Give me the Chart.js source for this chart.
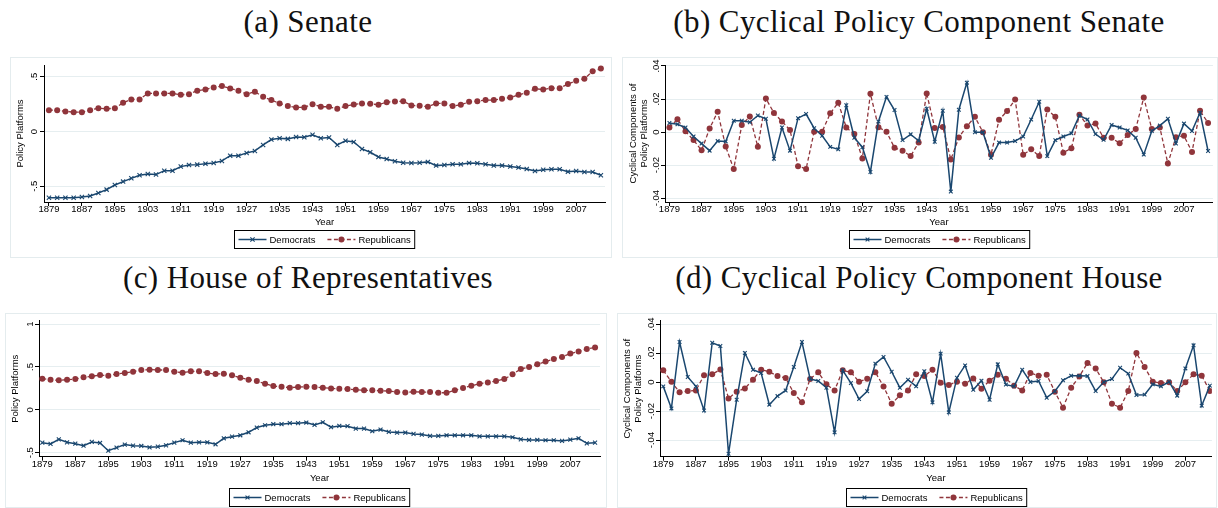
<!DOCTYPE html>
<html>
<head>
<meta charset="utf-8">
<script src="https://cdn.jsdelivr.net/npm/chart.js@4.4.1/dist/chart.umd.min.js"></script>
<style>
  body { margin: 0; background: #fff; }
  #page { position: relative; width: 1218px; height: 508px; overflow: hidden; }
  .ttl { position: absolute; font-family: "Liberation Serif", "Times New Roman", serif; font-size: 31px;
         line-height: 31px; color: #111; white-space: nowrap; transform: translateX(-50%); letter-spacing: 0.4px; }
  canvas { position: absolute; }
  .frame { position: absolute; border: 1px solid #e4ecee; box-sizing: border-box; pointer-events: none; }
</style>
</head>
<body>
<div id="page">
  <div class="ttl" style="left:308px; top:6px">(a) Senate</div>
  <div class="ttl" style="left:919px; top:6px">(b) Cyclical Policy Component Senate</div>
  <div class="ttl" style="left:308px; top:262px">(c) House of Representatives</div>
  <div class="ttl" style="left:919px; top:262px">(d) Cyclical Policy Component House</div>

  <canvas id="chartA" width="602" height="201" style="left:10px; top:57px"></canvas>
  <canvas id="chartB" width="596" height="201" style="left:622px; top:57px"></canvas>
  <canvas id="chartC" width="602" height="195" style="left:5px; top:313px"></canvas>
  <canvas id="chartD" width="600" height="195" style="left:617px; top:313px"></canvas>
  <div class="frame" style="left:10px; top:57px; width:602px; height:201px"></div>
  <div class="frame" style="left:622px; top:57px; width:596px; height:201px"></div>
  <div class="frame" style="left:5px; top:313px; width:602px; height:195px"></div>
  <div class="frame" style="left:617px; top:313px; width:600px; height:195px"></div>
</div>

<script>
// Congress start years, every two years
const years = [1879, 1881, 1883, 1885, 1887, 1889, 1891, 1893, 1895, 1897, 1899, 1901, 1903, 1905, 1907, 1909,
  1911, 1913, 1915, 1917, 1919, 1921, 1923, 1925, 1927, 1929, 1931, 1933, 1935, 1937, 1939, 1941,
  1943, 1945, 1947, 1949, 1951, 1953, 1955, 1957, 1959, 1961, 1963, 1965, 1967, 1969, 1971, 1973,
  1975, 1977, 1979, 1981, 1983, 1985, 1987, 1989, 1991, 1993, 1995, 1997, 1999, 2001, 2003, 2005,
  2007, 2009, 2011, 2013];

const tickYears = [1879, 1887, 1895, 1903, 1911, 1919, 1927, 1935, 1943, 1951, 1959, 1967, 1975, 1983, 1991, 1999, 2007];

// (a) Senate
const senateDem = [-0.604, -0.604, -0.604, -0.604, -0.598, -0.588, -0.561, -0.530, -0.488, -0.457, -0.427, -0.399,
  -0.387, -0.393, -0.357, -0.357, -0.320, -0.305, -0.302, -0.293, -0.287, -0.268, -0.220, -0.220, -0.195, -0.177,
  -0.122, -0.073, -0.061, -0.067, -0.049, -0.052,
  -0.030, -0.061, -0.055, -0.122, -0.085, -0.095, -0.159, -0.189, -0.232, -0.250, -0.271, -0.284, -0.287, -0.284,
  -0.277, -0.311, -0.305, -0.299, -0.299, -0.287, -0.290, -0.299, -0.311, -0.311, -0.320, -0.329, -0.341, -0.360,
  -0.348, -0.345, -0.345, -0.366, -0.360, -0.369, -0.369, -0.399];
const senateRep = [0.195, 0.195, 0.183, 0.177, 0.177, 0.195, 0.213, 0.207, 0.213, 0.262, 0.293, 0.293, 0.348, 0.348,
  0.348, 0.348, 0.335, 0.341, 0.372, 0.384, 0.402, 0.415, 0.393, 0.372, 0.341, 0.363, 0.317, 0.287, 0.256, 0.232,
  0.220, 0.220,
  0.250, 0.226, 0.226, 0.207, 0.232, 0.247, 0.256, 0.253, 0.244, 0.268, 0.274, 0.277, 0.238, 0.235, 0.226, 0.256,
  0.256, 0.232, 0.244, 0.271, 0.277, 0.287, 0.287, 0.299, 0.311, 0.335, 0.354, 0.390, 0.384, 0.396, 0.396, 0.433,
  0.463, 0.482, 0.549, 0.576];

// (b) cyclical component, Senate
const cycSenateDem = [0.0055, 0.0047, 0.0027, -0.0027, -0.0070, -0.0113, -0.0055, -0.0057, 0.0068, 0.0068, 0.0059,
  0.0100, 0.0080, -0.0162, 0.0027, -0.0113, 0.0084, 0.0109, 0.0023, -0.0023, -0.0090, -0.0105, 0.0162, -0.0035,
  -0.0092, -0.0242, 0.0064, 0.0213, 0.0133, -0.0049, -0.0014, -0.0053,
  0.0141, -0.0059, 0.0129, -0.0361, 0.0135, 0.0299, -0.0002, -0.0002, -0.0156, -0.0064, -0.0064, -0.0055, -0.0027,
  0.0076, 0.0183, -0.0146, -0.0049, -0.0027, -0.0008, 0.0100, 0.0076, -0.0012, -0.0047, 0.0043, 0.0027, 0.0010,
  -0.0035, -0.0137, 0.0006, 0.0039, 0.0080, -0.0070, 0.0051, 0.0006, 0.0117, -0.0115];
const cycSenateRep = [0.0027, 0.0078, 0.0004, -0.0049, -0.0111, 0.0021, 0.0123, -0.0088, -0.0224, 0.0043, 0.0094,
  -0.0090, 0.0203, 0.0115, 0.0064, 0.0012, -0.0207, -0.0224, 0.0002, 0.0002, 0.0113, 0.0178, 0.0027, -0.0012,
  -0.0160, 0.0232, 0.0029, 0.0002, -0.0096, -0.0113, -0.0146, -0.0064,
  0.0234, 0.0025, 0.0031, -0.0166, -0.0033, 0.0035, 0.0092, -0.0002, -0.0137, 0.0074, 0.0127, 0.0197, -0.0137,
  -0.0105, -0.0146, 0.0137, 0.0092, -0.0125, -0.0098, 0.0105, 0.0039, 0.0051, -0.0035, -0.0035, -0.0068, -0.0018,
  0.0018, 0.0209, 0.0018, 0.0027, -0.0191, -0.0031, -0.0023, -0.0121, 0.0129, 0.0055];

// (c) House of Representatives
const houseDem = [-0.383, -0.398, -0.344, -0.379, -0.395, -0.418, -0.375, -0.387, -0.477, -0.441, -0.406, -0.418,
  -0.422, -0.438, -0.430, -0.414, -0.383, -0.355, -0.383, -0.379, -0.379, -0.402, -0.332, -0.313, -0.297, -0.262,
  -0.207, -0.180, -0.168, -0.168, -0.156, -0.156,
  -0.148, -0.176, -0.145, -0.203, -0.188, -0.191, -0.219, -0.219, -0.250, -0.230, -0.258, -0.266, -0.266, -0.281,
  -0.289, -0.305, -0.305, -0.297, -0.297, -0.297, -0.297, -0.309, -0.309, -0.309, -0.309, -0.320, -0.344, -0.352,
  -0.352, -0.355, -0.355, -0.363, -0.348, -0.332, -0.391, -0.383];
const houseRep = [0.363, 0.352, 0.344, 0.352, 0.359, 0.379, 0.391, 0.406, 0.398, 0.418, 0.430, 0.445, 0.465, 0.469,
  0.465, 0.465, 0.445, 0.434, 0.449, 0.449, 0.430, 0.418, 0.422, 0.402, 0.375, 0.352, 0.336, 0.305, 0.277, 0.270,
  0.258, 0.266,
  0.270, 0.266, 0.258, 0.250, 0.246, 0.242, 0.234, 0.227, 0.227, 0.223, 0.219, 0.207, 0.203, 0.211, 0.207, 0.207,
  0.199, 0.199, 0.227, 0.254, 0.281, 0.305, 0.320, 0.336, 0.359, 0.414, 0.477, 0.500, 0.531, 0.563, 0.594, 0.617,
  0.656, 0.680, 0.711, 0.727];

// (d) cyclical component, House
const cycHouseDem = [-0.0030, -0.0182, 0.0276, 0.0035, -0.0030, -0.0196, 0.0271, 0.0248, -0.0495, -0.0122, 0.0200,
  0.0085, 0.0062, -0.0156, -0.0097, -0.0058, 0.0104, 0.0276, 0.0021, 0.0007, -0.0039, -0.0347, 0.0081, -0.0007,
  -0.0117, -0.0064, 0.0127, 0.0173, 0.0071, -0.0039, 0.0016, -0.0030,
  0.0074, -0.0140, 0.0196, -0.0209, 0.0030, 0.0115, -0.0053, 0.0009, -0.0122, 0.0122, -0.0018, -0.0030, 0.0085,
  0.0000, 0.0007, -0.0108, -0.0064, 0.0012, 0.0044, 0.0044, 0.0041, -0.0062, 0.0000, 0.0021, 0.0099, 0.0058,
  -0.0090, -0.0087, -0.0016, -0.0030, 0.0002, -0.0094, 0.0094, 0.0253, -0.0163, -0.0025];
const cycHouseRep = [0.0081, 0.0002, -0.0071, -0.0062, -0.0058, 0.0046, 0.0053, 0.0087, -0.0113, -0.0067, -0.0044,
  0.0016, 0.0085, 0.0071, 0.0041, 0.0028, -0.0076, -0.0140, 0.0021, 0.0067, -0.0016, -0.0058, 0.0081, 0.0067,
  0.0002, 0.0023, 0.0067, -0.0030, -0.0150, -0.0092, -0.0058, 0.0053,
  0.0041, 0.0085, -0.0005, -0.0021, 0.0002, -0.0012, 0.0025, -0.0046, 0.0009, 0.0051, 0.0023, -0.0025, -0.0058,
  0.0062, 0.0044, 0.0051, -0.0067, -0.0177, -0.0039, 0.0039, 0.0131, 0.0094, -0.0002, -0.0150, -0.0177, -0.0062,
  0.0200, 0.0104, 0.0002, -0.0007, -0.0002, -0.0062, -0.0002, 0.0053, 0.0044, -0.0062];

const platformTicks = [-0.5, 0, 0.5];
const houseTicks = [-0.5, 0, 0.5, 1];
const cyclicalTicks = [-0.04, -0.02, 0, 0.02, 0.04];

const NAVY = '#1a476f';
const MAROON = '#90353b';
const GRID = '#e6eef0';
const FONT = '"Liberation Sans", Arial, sans-serif';

// Stata style labels: .5 instead of 0.5
function stataLabel(v) {
  return String(v).replace('0.', '.');
}

// Boxed legend under the plot, line sample with marker
const legendBox = {
  id: 'legendBox',
  afterDraw(chart, args, opts) {
    let ctx = chart.ctx;
    let a = chart.chartArea;
    ctx.save();
    ctx.font = '9.5px ' + FONT;
    let sample = 28, gap = 3, between = 12, pad = 4, h = 18;
    let sets = chart.data.datasets;
    let w = pad * 2;
    sets.forEach(function(d, i) {
      w += sample + gap + ctx.measureText(d.label).width;
      if (i) w += between;
    });
    let x0 = Math.round((a.left + a.right) / 2 - w / 2) + 0.5;
    let y0 = Math.round(a.bottom + opts.gap) + 0.5;
    ctx.fillStyle = '#fff';
    ctx.fillRect(x0, y0, w, h);
    ctx.strokeStyle = '#000';
    ctx.lineWidth = 1;
    ctx.strokeRect(x0, y0, w, h);
    let x = x0 + pad;
    let cy = y0 + h / 2;
    sets.forEach(function(d, i) {
      if (i) x += between;
      ctx.strokeStyle = d.borderColor;
      ctx.lineWidth = d.borderWidth;
      ctx.setLineDash(d.borderDash || []);
      ctx.beginPath();
      ctx.moveTo(x, cy);
      ctx.lineTo(x + sample, cy);
      ctx.stroke();
      ctx.setLineDash([]);
      let mx = x + sample / 2;
      if (d.pointStyle === 'circle') {
        ctx.fillStyle = d.pointBackgroundColor;
        ctx.beginPath();
        ctx.arc(mx, cy, d.pointRadius, 0, Math.PI * 2);
        ctx.fill();
      } else {
        let r = d.pointRadius * 0.707;
        ctx.lineWidth = d.pointBorderWidth;
        ctx.beginPath();
        ctx.moveTo(mx - r, cy - r); ctx.lineTo(mx + r, cy + r);
        ctx.moveTo(mx + r, cy - r); ctx.lineTo(mx - r, cy + r);
        ctx.stroke();
      }
      x += sample + gap;
      ctx.fillStyle = '#000';
      ctx.textAlign = 'left';
      ctx.textBaseline = 'middle';
      ctx.fillText(d.label, x, cy + 0.5);
      x += ctx.measureText(d.label).width;
    });
    ctx.restore();
  }
};

// area = plot box inside the canvas, xh = height of the x axis block
const panels = [
  { id: 'chartA', dem: senateDem, rep: senateRep, yTicks: platformTicks, yMin: -0.643, yMax: 0.607,
    xMin: 1877.8, xMax: 2014, area: { left: 34, top: 8, right: 595, bottom: 145 }, xh: 25.7,
    yTitle: 'Policy Platforms', yTitlePad: 5.5, yLabelDist: 10, legendGap: 28, xr: 3, dr: 3 },
  { id: 'chartB', dem: cycSenateDem, rep: cycSenateRep, yTicks: cyclicalTicks, yMin: -0.0424, yMax: 0.0406,
    xMin: 1877.9, xMax: 2014.2, area: { left: 43, top: 8, right: 594, bottom: 145 }, xh: 25.7,
    yTitle: ['Cyclical Components of', 'Policy Platforms'], yTitlePad: 6.5, yLabelDist: 8.5, legendGap: 28, xr: 2.6, dr: 3 },
  { id: 'chartC', dem: houseDem, rep: houseRep, yTicks: houseTicks, yMin: -0.547, yMax: 1.04,
    xMin: 1878.2, xMax: 2014.2, area: { left: 34, top: 7.7, right: 595, bottom: 143.7 }, xh: 27,
    yTitle: 'Policy Platforms', yTitlePad: 5, yLabelDist: 9, legendGap: 31, xr: 2.8, dr: 3 },
  { id: 'chartD', dem: cycHouseDem, rep: cycHouseRep, yTicks: cyclicalTicks, yMin: -0.0515, yMax: 0.0423,
    xMin: 1878.2, xMax: 2013.5, area: { left: 43, top: 7.7, right: 595, bottom: 143.7 }, xh: 27,
    yTitle: ['Cyclical Components of', 'Policy Platforms'], yTitlePad: 5.5, yLabelDist: 8.5, legendGap: 31, xr: 2.6, dr: 3 }
];

function buildPanel(p) {
  let canvas = document.getElementById(p.id);
  let W = canvas.width, H = canvas.height;
  let mctx = canvas.getContext('2d');
  mctx.font = '9.5px ' + FONT;
  let widest = 0;
  p.yTicks.forEach(function(v) {
    widest = Math.max(widest, mctx.measureText(stataLabel(v)).width);
  });
  let tickLen = 4;
  let font = { family: FONT, size: 9.5 };

  new Chart(canvas, {
    type: 'line',
    data: {
      datasets: [
        { label: 'Democrats', data: years.map(function(y, i) { return { x: y, y: p.dem[i] }; }),
          borderColor: NAVY, borderWidth: 1.5, pointStyle: 'crossRot', pointRadius: p.xr,
          pointBorderColor: NAVY, pointBorderWidth: 1.1, fill: false, tension: 0 },
        { label: 'Republicans', data: years.map(function(y, i) { return { x: y, y: p.rep[i] }; }),
          borderColor: MAROON, borderWidth: 1.3, borderDash: [4, 2.5], pointStyle: 'circle', pointRadius: p.dr,
          pointBackgroundColor: MAROON, pointBorderColor: MAROON, pointBorderWidth: 0, fill: false, tension: 0 }
      ]
    },
    options: {
      responsive: false,
      animation: false,
      layout: { padding: { top: p.area.top, right: W - p.area.right, bottom: H - p.area.bottom - p.xh, left: 0 } },
      plugins: { legend: { display: false }, tooltip: { enabled: false }, legendBox: { gap: p.legendGap } },
      scales: {
        x: {
          type: 'linear', min: p.xMin, max: p.xMax,
          afterBuildTicks: function(s) { s.ticks = tickYears.map(function(v) { return { value: v }; }); },
          afterFit: function(s) { s.height = p.xh; },
          grid: { drawOnChartArea: false, drawTicks: true, tickLength: tickLen, tickColor: '#000' },
          border: { display: true, color: '#000', width: 1 },
          ticks: { autoSkip: false, maxRotation: 0, padding: -2, color: '#000', font: font,
                   callback: function(v) { return String(v); } },
          title: { display: true, text: 'Year', color: '#000', font: font, padding: { top: 0, bottom: 0 } }
        },
        y: {
          type: 'linear', min: p.yMin, max: p.yMax,
          afterBuildTicks: function(s) { s.ticks = p.yTicks.map(function(v) { return { value: v }; }); },
          afterFit: function(s) { s.width = p.area.left; },
          grid: { color: GRID, lineWidth: 1, drawTicks: true, tickLength: tickLen, tickColor: '#000' },
          border: { display: true, color: '#000', width: 1 },
          ticks: { minRotation: 90, maxRotation: 90, crossAlign: 'center', color: '#000', font: font,
                   padding: p.yLabelDist - tickLen - widest / 2, callback: function(v) { return stataLabel(v); } },
          title: { display: true, text: p.yTitle, color: '#000',
                   font: { family: FONT, size: 9.5, lineHeight: 1.1 }, padding: { top: p.yTitlePad, bottom: 0 } }
        }
      }
    },
    plugins: [legendBox]
  });
}

panels.forEach(buildPanel);
</script>
</body>
</html>
